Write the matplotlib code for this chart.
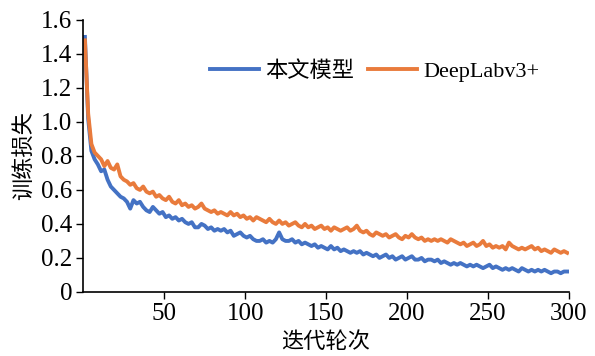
import matplotlib
matplotlib.use('Agg')
import matplotlib.pyplot as plt

# Fontes: serif para números, CJK para os rótulos em chinês
plt.rcParams['font.family'] = ['Liberation Serif', 'Noto Sans CJK SC']

# Dados (época a cada 2 iterações)
epocas = list(range(1, 301, 2))

perda_modelo = [
    1.50, 1.02, 0.83, 0.78, 0.75, 0.71, 0.72, 0.66, 0.62, 0.60,
    0.58, 0.56, 0.55, 0.53, 0.49, 0.54, 0.52, 0.53, 0.50, 0.48,
    0.47, 0.50, 0.48, 0.46, 0.47, 0.44, 0.45, 0.43, 0.44, 0.42,
    0.43, 0.41, 0.40, 0.41, 0.38, 0.38, 0.40, 0.39, 0.37, 0.38,
    0.36, 0.37, 0.36, 0.37, 0.35, 0.36, 0.33, 0.34, 0.35, 0.33,
    0.32, 0.33, 0.31, 0.30, 0.30, 0.31, 0.29, 0.30, 0.29, 0.31,
    0.35, 0.31, 0.30, 0.30, 0.31, 0.29, 0.30, 0.28, 0.29, 0.28,
    0.27, 0.28, 0.26, 0.27, 0.26, 0.25, 0.27, 0.25, 0.26, 0.24,
    0.25, 0.24, 0.23, 0.24, 0.23, 0.24, 0.22, 0.23, 0.22, 0.21,
    0.22, 0.20, 0.21, 0.22, 0.20, 0.21, 0.19, 0.20, 0.21, 0.19,
    0.20, 0.21, 0.19, 0.19, 0.20, 0.18, 0.19, 0.19, 0.18, 0.19,
    0.17, 0.18, 0.17, 0.16, 0.17, 0.16, 0.17, 0.16, 0.15, 0.16,
    0.15, 0.16, 0.15, 0.14, 0.15, 0.16, 0.14, 0.15, 0.14, 0.13,
    0.14, 0.13, 0.14, 0.13, 0.12, 0.14, 0.13, 0.12, 0.13, 0.12,
    0.13, 0.12, 0.13, 0.12, 0.11, 0.12, 0.12, 0.11, 0.12, 0.12,
]

perda_deeplab = [
    1.48, 1.05, 0.87, 0.82, 0.80, 0.78, 0.74, 0.77, 0.73, 0.72,
    0.75, 0.68, 0.66, 0.65, 0.63, 0.64, 0.61, 0.60, 0.62, 0.59,
    0.58, 0.59, 0.56, 0.57, 0.55, 0.54, 0.56, 0.53, 0.52, 0.54,
    0.51, 0.52, 0.50, 0.51, 0.49, 0.50, 0.52, 0.49, 0.48, 0.47,
    0.48, 0.46, 0.47, 0.46, 0.45, 0.47, 0.45, 0.46, 0.44, 0.45,
    0.43, 0.44, 0.42, 0.44, 0.43, 0.42, 0.41, 0.43, 0.41, 0.40,
    0.42, 0.40, 0.41, 0.39, 0.40, 0.41, 0.39, 0.38, 0.40, 0.38,
    0.39, 0.37, 0.38, 0.39, 0.37, 0.38, 0.36, 0.38, 0.37, 0.36,
    0.37, 0.38, 0.36, 0.37, 0.39, 0.36, 0.35, 0.36, 0.34, 0.33,
    0.35, 0.34, 0.33, 0.34, 0.32, 0.33, 0.34, 0.32, 0.31, 0.33,
    0.32, 0.34, 0.32, 0.31, 0.32, 0.30, 0.31, 0.30, 0.31, 0.30,
    0.31, 0.30, 0.29, 0.31, 0.30, 0.29, 0.28, 0.29, 0.27, 0.28,
    0.29, 0.27, 0.28, 0.30, 0.27, 0.28, 0.26, 0.27, 0.26, 0.27,
    0.25, 0.29, 0.27, 0.26, 0.25, 0.26, 0.25, 0.26, 0.27, 0.25,
    0.26, 0.24, 0.25, 0.24, 0.23, 0.25, 0.24, 0.23, 0.24, 0.23,
]

x_ticks = [50, 100, 150, 200, 250, 300]
y_ticks = [0, 0.2, 0.4, 0.6, 0.8, 1.0, 1.2, 1.4, 1.6]
y_labels = ['0', '0.2', '0.4', '0.6', '0.8', '1.0', '1.2', '1.4', '1.6']

# Configurar a figura
fig, ax = plt.subplots(figsize=(5.95, 3.56), dpi=100)
fig.subplots_adjust(left=0.14, right=0.956, top=0.944, bottom=0.18)

ax.plot(epocas, perda_modelo, color='#4472C4', lw=2.8, label='本文模型')
ax.plot(epocas, perda_deeplab, color='#E97B3C', lw=2.8, label='DeepLabv3+')

ax.set_xlim(0, 300)
ax.set_ylim(0, 1.6)
ax.set_xticks(x_ticks)
ax.set_yticks(y_ticks)
ax.set_yticklabels(y_labels)
ax.tick_params(labelsize=18, direction='out', length=5, width=1, pad=3)

for lado in ['top', 'right']:
    ax.spines[lado].set_visible(False)
for lado in ['left', 'bottom']:
    ax.spines[lado].set_linewidth(1.2)

ax.set_xlabel('迭代轮次', fontsize=16, labelpad=5)
ax.set_ylabel('训练损失', fontsize=16, labelpad=4)

ax.legend(loc='center', bbox_to_anchor=(0.6, 0.81), ncol=2, frameon=False,
          fontsize=16, handlelength=2.2, handletextpad=0.3, columnspacing=0.6)

plt.savefig('out.png', dpi=100)
